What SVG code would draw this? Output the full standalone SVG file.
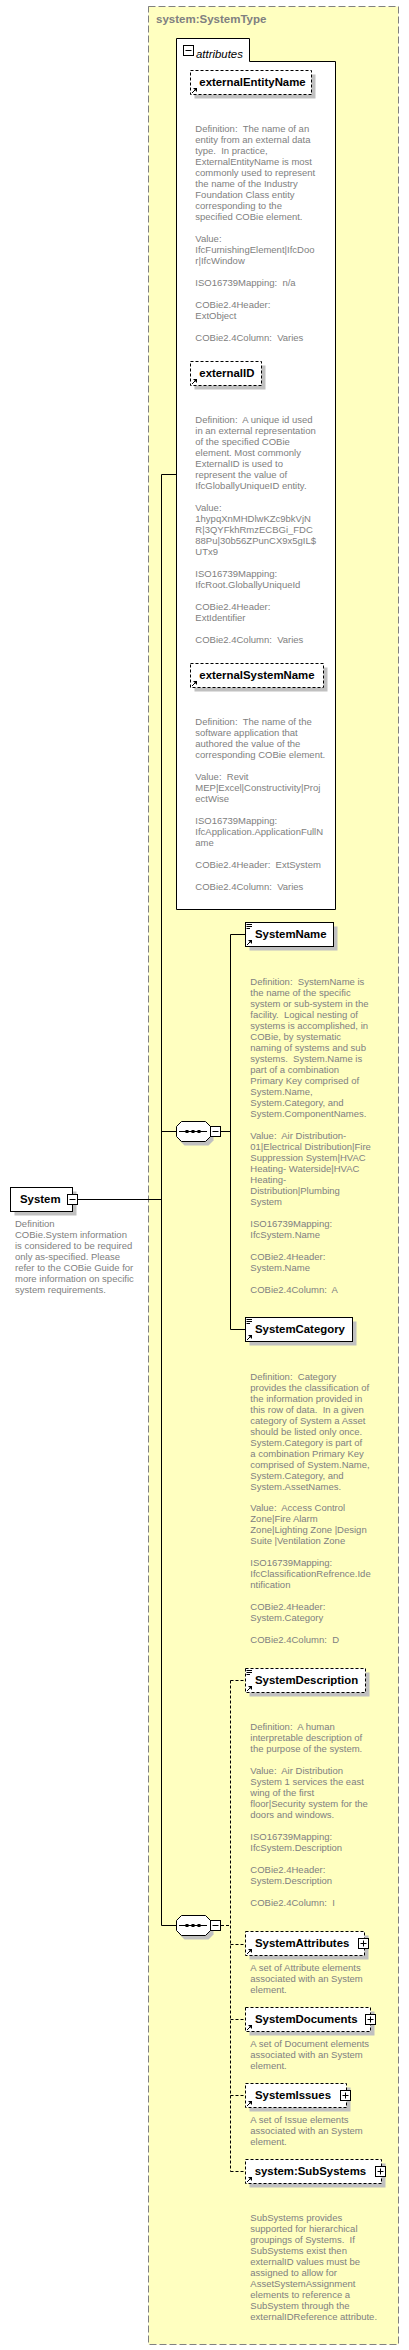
<svg xmlns="http://www.w3.org/2000/svg" xmlns:xlink="http://www.w3.org/1999/xlink" width="409" height="2350" viewBox="0 0 409 2350">
<style>
.lbl{font-family:"Liberation Sans",Arial,sans-serif;font-weight:bold;font-size:11.4px;fill:#000}
.ttl{font-family:"Liberation Sans",Arial,sans-serif;font-weight:bold;font-size:11.5px;fill:#808080}
.att{font-family:"Liberation Sans",Arial,sans-serif;font-style:italic;font-size:11.4px;fill:#000}
.desc{font-family:"Liberation Sans",Arial,sans-serif;font-size:9.5px;fill:#808080;white-space:pre}
.sh{fill:#C0C0C0}
.box{fill:#fff;stroke:#000;stroke-width:1}
.opt{fill:#fff;stroke:#000;stroke-width:1;stroke-dasharray:3,2}
.conn{stroke:#000;stroke-width:1;fill:none}
.dconn{stroke:#000;stroke-width:1;fill:none;stroke-dasharray:3,2}
.ico{stroke:#000;stroke-width:1;fill:none}
</style>
<defs>
<g id="ref"><path d="M2,-2 L5.5,-5.5" class="ico"/><path d="M3,-7 L7,-7 L7,-3 Z" fill="#000"/></g>
<g id="simple"><path d="M1.5,2.5 H7 M1.5,4.5 H7 M1.5,6.5 H5" class="ico"/></g>
<g id="minus"><rect x="1" y="1" width="10" height="10" fill="#000"/><rect x="0.5" y="0.5" width="10" height="10" class="box"/><path d="M2.5,5.5 H8.5" class="ico"/></g>
<g id="plus"><rect x="1" y="1" width="10" height="10" fill="#000"/><rect x="0.5" y="0.5" width="10" height="10" class="box"/><path d="M2.5,5.5 H8.5 M5.5,2.5 V8.5" class="ico"/></g>
<path id="oct" d="M5.5,0.5 H29.5 L34.5,5.5 V15.5 L29.5,20.5 H5.5 L0.5,15.5 V5.5 Z"/>
<g id="seq"><use xlink:href="#oct" transform="translate(3,4)" class="sh"/><use xlink:href="#oct" class="box"/><path d="M3,10.5 H31" class="ico"/><rect x="9.5" y="9" width="3" height="3" fill="#000"/><rect x="15.5" y="9" width="3" height="3" fill="#000"/><rect x="21.5" y="9" width="3" height="3" fill="#000"/></g>
</defs>

<g id="SystemType">
<rect x="148.5" y="6.5" width="250" height="2338" fill="#FFFFC0" stroke="#808080" stroke-dasharray="7,3"/>
<text class="ttl" x="156" y="23">system:SystemType</text>
</g>

<g id="connectors">
<path class="conn" d="M78,1199.5 H161.5 M161.5,474.5 V1925.5 M161.5,474.5 H176.5 M161.5,1131.5 H176.5 M161.5,1925.5 H176.5 M221,1131.5 H230.5 M230.5,934.5 V1329.5 M230.5,934.5 H245.5 M230.5,1329.5 H245.5"/>
<path class="dconn" d="M221,1925.5 H230.5 M230.5,1680.5 V2171.5 M230.5,1680.5 H245.5 M230.5,1944.5 H245.5 M230.5,2019.5 H245.5 M230.5,2095.5 H245.5 M230.5,2171.5 H245.5"/>
</g>

<g id="attributes">
<path d="M176.5,38.5 H249.5 V61.5 H335.5 V909.5 H176.5 Z" class="box"/>
<use xlink:href="#minus" x="183" y="45"/>
<text class="att" x="196" y="57.5">attributes</text>
</g>

<g id="externalEntityName">
<rect x="194.5" y="74.5" width="121" height="24" class="sh"/>
<rect x="190.5" y="70.5" width="121" height="24" class="opt"/>
<use xlink:href="#ref" x="190" y="95"/>
<text class="lbl" x="199.3" y="86">externalEntityName</text>
<text class="desc" xml:space="preserve"><tspan x="195.3" y="131.8">Definition:  The name of an</tspan><tspan x="195.3" y="142.8">entity from an external data</tspan><tspan x="195.3" y="153.8">type.  In practice,</tspan><tspan x="195.3" y="164.8">ExternalEntityName is most</tspan><tspan x="195.3" y="175.8">commonly used to represent</tspan><tspan x="195.3" y="186.8">the name of the Industry</tspan><tspan x="195.3" y="197.8">Foundation Class entity</tspan><tspan x="195.3" y="208.8">corresponding to the</tspan><tspan x="195.3" y="219.8">specified COBie element.</tspan><tspan x="195.3" y="241.8">Value:</tspan><tspan x="195.3" y="252.8">IfcFurnishingElement|IfcDoo</tspan><tspan x="195.3" y="263.8">r|IfcWindow</tspan><tspan x="195.3" y="285.8">ISO16739Mapping:  n/a</tspan><tspan x="195.3" y="307.8">COBie2.4Header:</tspan><tspan x="195.3" y="318.8">ExtObject</tspan><tspan x="195.3" y="340.8">COBie2.4Column:  Varies</tspan></text>
</g>

<g id="externalID">
<rect x="194.5" y="365.5" width="71" height="24" class="sh"/>
<rect x="190.5" y="361.5" width="71" height="24" class="opt"/>
<use xlink:href="#ref" x="190" y="386"/>
<text class="lbl" x="199.3" y="376.7">externalID</text>
<text class="desc" xml:space="preserve"><tspan x="195.3" y="422.8">Definition:  A unique id used</tspan><tspan x="195.3" y="433.8">in an external representation</tspan><tspan x="195.3" y="444.8">of the specified COBie</tspan><tspan x="195.3" y="455.8">element. Most commonly</tspan><tspan x="195.3" y="466.8">ExternalID is used to</tspan><tspan x="195.3" y="477.8">represent the value of</tspan><tspan x="195.3" y="488.8">IfcGloballyUniqueID entity.</tspan><tspan x="195.3" y="510.8">Value:</tspan><tspan x="195.3" y="521.8">1hypqXnMHDlwKZc9bkVjN</tspan><tspan x="195.3" y="532.8">R|3QYFkhRmzECBGi_FDC</tspan><tspan x="195.3" y="543.8">88Pu|30b56ZPunCX9x5gIL$</tspan><tspan x="195.3" y="554.8">UTx9</tspan><tspan x="195.3" y="576.8">ISO16739Mapping:</tspan><tspan x="195.3" y="587.8">IfcRoot.GloballyUniqueId</tspan><tspan x="195.3" y="609.8">COBie2.4Header:</tspan><tspan x="195.3" y="620.8">ExtIdentifier</tspan><tspan x="195.3" y="642.8">COBie2.4Column:  Varies</tspan></text>
</g>

<g id="externalSystemName">
<rect x="194.5" y="667.5" width="133" height="24" class="sh"/>
<rect x="190.5" y="663.5" width="133" height="24" class="opt"/>
<use xlink:href="#ref" x="190" y="688"/>
<text class="lbl" x="199.3" y="679">externalSystemName</text>
<text class="desc" xml:space="preserve"><tspan x="195.3" y="725.2">Definition:  The name of the</tspan><tspan x="195.3" y="736.2">software application that</tspan><tspan x="195.3" y="747.2">authored the value of the</tspan><tspan x="195.3" y="758.2">corresponding COBie element.</tspan><tspan x="195.3" y="780.2">Value:  Revit</tspan><tspan x="195.3" y="791.2">MEP|Excel|Constructivity|Proj</tspan><tspan x="195.3" y="802.2">ectWise</tspan><tspan x="195.3" y="824.2">ISO16739Mapping:</tspan><tspan x="195.3" y="835.2">IfcApplication.ApplicationFullN</tspan><tspan x="195.3" y="846.2">ame</tspan><tspan x="195.3" y="868.2">COBie2.4Header:  ExtSystem</tspan><tspan x="195.3" y="890.2">COBie2.4Column:  Varies</tspan></text>
</g>

<g id="System">
<rect x="14.5" y="1191.5" width="62" height="24" class="sh"/>
<rect x="10.5" y="1187.5" width="62" height="24" class="box"/>
<use xlink:href="#minus" x="67" y="1194"/>
<text class="lbl" x="20" y="1203.3">System</text>
<text class="desc" xml:space="preserve"><tspan x="15" y="1227.2">Definition</tspan><tspan x="15" y="1238.2">COBie.System information</tspan><tspan x="15" y="1249.2">is considered to be required</tspan><tspan x="15" y="1260.2">only as-specified. Please</tspan><tspan x="15" y="1271.2">refer to the COBie Guide for</tspan><tspan x="15" y="1282.2">more information on specific</tspan><tspan x="15" y="1293.2">system requirements.</tspan></text>
</g>

<g id="sequence1">
<use xlink:href="#seq" x="176" y="1121"/>
<use xlink:href="#minus" x="210" y="1126"/>
</g>

<g id="SystemName">
<rect x="249.5" y="926.5" width="88" height="24" class="sh"/>
<rect x="245.5" y="922.5" width="88" height="24" class="box"/>
<use xlink:href="#simple" x="245" y="922"/>
<use xlink:href="#ref" x="245" y="947"/>
<text class="lbl" x="255" y="938">SystemName</text>
<text class="desc" xml:space="preserve"><tspan x="250.3" y="984.9">Definition:  SystemName is</tspan><tspan x="250.3" y="995.9">the name of the specific</tspan><tspan x="250.3" y="1006.9">system or sub-system in the</tspan><tspan x="250.3" y="1017.9">facility.  Logical nesting of</tspan><tspan x="250.3" y="1028.9">systems is accomplished, in</tspan><tspan x="250.3" y="1039.9">COBie, by systematic</tspan><tspan x="250.3" y="1050.9">naming of systems and sub</tspan><tspan x="250.3" y="1061.9">systems.  System.Name is</tspan><tspan x="250.3" y="1072.9">part of a combination</tspan><tspan x="250.3" y="1083.9">Primary Key comprised of</tspan><tspan x="250.3" y="1094.9">System.Name,</tspan><tspan x="250.3" y="1105.9">System.Category, and</tspan><tspan x="250.3" y="1116.9">System.ComponentNames.</tspan><tspan x="250.3" y="1138.9">Value:  Air Distribution-</tspan><tspan x="250.3" y="1149.9">01|Electrical Distribution|Fire</tspan><tspan x="250.3" y="1160.9">Suppression System|HVAC</tspan><tspan x="250.3" y="1171.9">Heating- Waterside|HVAC</tspan><tspan x="250.3" y="1182.9">Heating-</tspan><tspan x="250.3" y="1193.9">Distribution|Plumbing</tspan><tspan x="250.3" y="1204.9">System</tspan><tspan x="250.3" y="1226.9">ISO16739Mapping:</tspan><tspan x="250.3" y="1237.9">IfcSystem.Name</tspan><tspan x="250.3" y="1259.9">COBie2.4Header:</tspan><tspan x="250.3" y="1270.9">System.Name</tspan><tspan x="250.3" y="1292.9">COBie2.4Column:  A</tspan></text>
</g>

<g id="SystemCategory">
<rect x="249.5" y="1321.5" width="107" height="24" class="sh"/>
<rect x="245.5" y="1317.5" width="107" height="24" class="box"/>
<use xlink:href="#simple" x="245" y="1317"/>
<use xlink:href="#ref" x="245" y="1342"/>
<text class="lbl" x="255" y="1333.3">SystemCategory</text>
<text class="desc" xml:space="preserve"><tspan x="250.3" y="1379.7">Definition:  Category</tspan><tspan x="250.3" y="1390.7">provides the classification of</tspan><tspan x="250.3" y="1401.7">the information provided in</tspan><tspan x="250.3" y="1412.7">this row of data.  In a given</tspan><tspan x="250.3" y="1423.7">category of System a Asset</tspan><tspan x="250.3" y="1434.7">should be listed only once.</tspan><tspan x="250.3" y="1445.7">System.Category is part of</tspan><tspan x="250.3" y="1456.7">a combination Primary Key</tspan><tspan x="250.3" y="1467.7">comprised of System.Name,</tspan><tspan x="250.3" y="1478.7">System.Category, and</tspan><tspan x="250.3" y="1489.7">System.AssetNames.</tspan><tspan x="250.3" y="1511.2">Value:  Access Control</tspan><tspan x="250.3" y="1522.2">Zone|Fire Alarm</tspan><tspan x="250.3" y="1533.2">Zone|Lighting Zone |Design</tspan><tspan x="250.3" y="1544.2">Suite |Ventilation Zone</tspan><tspan x="250.3" y="1566.2">ISO16739Mapping:</tspan><tspan x="250.3" y="1577.2">IfcClassificationRefrence.Ide</tspan><tspan x="250.3" y="1588.2">ntification</tspan><tspan x="250.3" y="1610.2">COBie2.4Header:</tspan><tspan x="250.3" y="1621.2">System.Category</tspan><tspan x="250.3" y="1643">COBie2.4Column:  D</tspan></text>
</g>

<g id="SystemDescription">
<rect x="249.5" y="1672.5" width="120" height="24" class="sh"/>
<rect x="245.5" y="1668.5" width="120" height="24" class="opt"/>
<use xlink:href="#simple" x="245" y="1668"/>
<use xlink:href="#ref" x="245" y="1693"/>
<text class="lbl" x="255" y="1684">SystemDescription</text>
<text class="desc" xml:space="preserve"><tspan x="250.3" y="1729.8">Definition:  A human</tspan><tspan x="250.3" y="1740.8">interpretable description of</tspan><tspan x="250.3" y="1751.8">the purpose of the system.</tspan><tspan x="250.3" y="1773.8">Value:  Air Distribution</tspan><tspan x="250.3" y="1784.8">System 1 services the east</tspan><tspan x="250.3" y="1795.8">wing of the first</tspan><tspan x="250.3" y="1806.8">floor|Security system for the</tspan><tspan x="250.3" y="1817.8">doors and windows.</tspan><tspan x="250.3" y="1839.8">ISO16739Mapping:</tspan><tspan x="250.3" y="1850.8">IfcSystem.Description</tspan><tspan x="250.3" y="1872.8">COBie2.4Header:</tspan><tspan x="250.3" y="1883.8">System.Description</tspan><tspan x="250.3" y="1905.8">COBie2.4Column:  I</tspan></text>
</g>

<g id="sequence2">
<use xlink:href="#seq" x="176" y="1915"/>
<use xlink:href="#minus" x="210" y="1920"/>
</g>

<g id="SystemAttributes">
<rect x="249.5" y="1935.5" width="119" height="24" class="sh"/>
<rect x="245.5" y="1931.5" width="119" height="24" class="opt"/>
<use xlink:href="#ref" x="245" y="1956"/>
<use xlink:href="#plus" x="358" y="1938"/>
<text class="lbl" x="255" y="1947.3">SystemAttributes</text>
<text class="desc" xml:space="preserve"><tspan x="250.3" y="1970.8">A set of Attribute elements</tspan><tspan x="250.3" y="1981.8">associated with an System</tspan><tspan x="250.3" y="1992.8">element.</tspan></text>
</g>

<g id="SystemDocuments">
<rect x="249.5" y="2011.5" width="125" height="24" class="sh"/>
<rect x="245.5" y="2007.5" width="125" height="24" class="opt"/>
<use xlink:href="#ref" x="245" y="2032"/>
<use xlink:href="#plus" x="365" y="2014"/>
<text class="lbl" x="255" y="2023">SystemDocuments</text>
<text class="desc" xml:space="preserve"><tspan x="250.3" y="2047.2">A set of Document elements</tspan><tspan x="250.3" y="2058.2">associated with an System</tspan><tspan x="250.3" y="2069.2">element.</tspan></text>
</g>

<g id="SystemIssues">
<rect x="249.5" y="2087.5" width="101" height="24" class="sh"/>
<rect x="245.5" y="2083.5" width="101" height="24" class="opt"/>
<use xlink:href="#ref" x="245" y="2108"/>
<use xlink:href="#plus" x="340" y="2090"/>
<text class="lbl" x="255" y="2099">SystemIssues</text>
<text class="desc" xml:space="preserve"><tspan x="250.3" y="2123.2">A set of Issue elements</tspan><tspan x="250.3" y="2134.2">associated with an System</tspan><tspan x="250.3" y="2145.2">element.</tspan></text>
</g>

<g id="SubSystems">
<rect x="249.5" y="2163.5" width="136" height="24" class="sh"/>
<rect x="245.5" y="2159.5" width="136" height="24" class="opt"/>
<use xlink:href="#ref" x="245" y="2184"/>
<use xlink:href="#plus" x="375" y="2166"/>
<text class="lbl" x="254.7" y="2175.3">system:SubSystems</text>
<text class="desc" xml:space="preserve"><tspan x="250.3" y="2221.2">SubSystems provides</tspan><tspan x="250.3" y="2232.2">supported for hierarchical</tspan><tspan x="250.3" y="2243.2">groupings of Systems.  If</tspan><tspan x="250.3" y="2254.2">SubSystems exist then</tspan><tspan x="250.3" y="2265.2">externalID values must be</tspan><tspan x="250.3" y="2276.2">assigned to allow for</tspan><tspan x="250.3" y="2287.2">AssetSystemAssignment</tspan><tspan x="250.3" y="2298.2">elements to reference a</tspan><tspan x="250.3" y="2309.2">SubSystem through the</tspan><tspan x="250.3" y="2320.2">externalIDReference attribute.</tspan></text>
</g>
</svg>
